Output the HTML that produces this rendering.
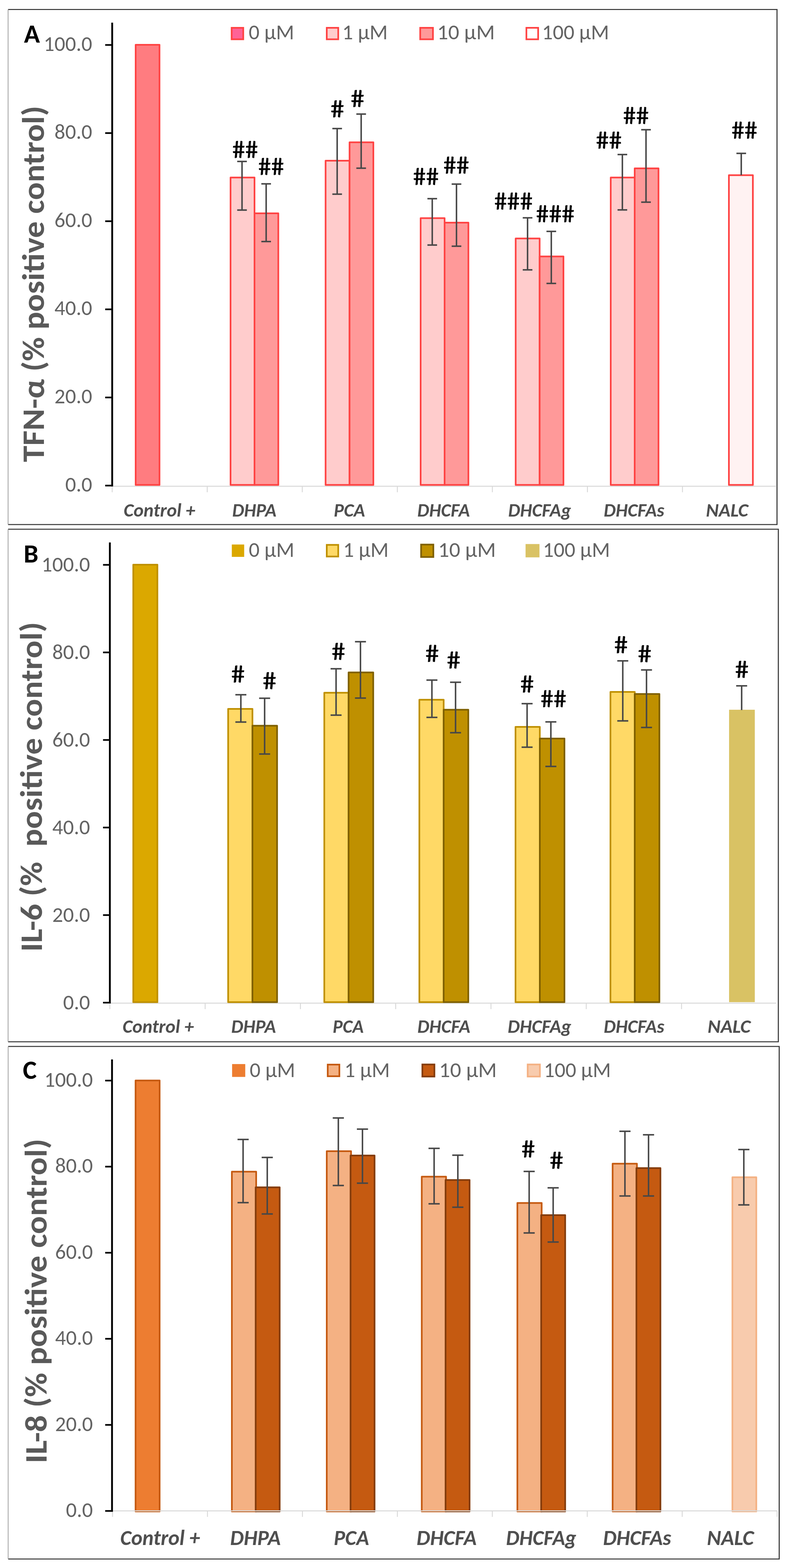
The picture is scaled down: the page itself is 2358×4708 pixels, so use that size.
<!DOCTYPE html>
<html><head><meta charset="utf-8"><title>Cytokine charts</title>
<style>
html,body{margin:0;padding:0;background:#fff;}
body{width:2358px;height:4708px;overflow:hidden;}
svg{display:block;}
text{font-family:Carlito, 'Liberation Sans', Arial, sans-serif;}
</style></head><body>
<svg width="2358" height="4708" viewBox="0 0 2358 4708">
<rect width="2358" height="4708" fill="#fff"/>
<path d="M24.3 28.5H2334V1575H24.3" stroke="#383838" stroke-width="3.2" fill="none"/>
<path d="M24.3 28.5V1575" stroke="#9a9a9a" stroke-width="2.2" fill="none"/>
<path d="M337 1460H2332.5" stroke="#d9d9d9" stroke-width="2.8" fill="none"/>
<path d="M337.0 1460V1478" stroke="#d9d9d9" stroke-width="2.8" fill="none"/>
<path d="M622.5 1460V1478" stroke="#d9d9d9" stroke-width="2.8" fill="none"/>
<path d="M908.0 1460V1478" stroke="#d9d9d9" stroke-width="2.8" fill="none"/>
<path d="M1193.5 1460V1478" stroke="#d9d9d9" stroke-width="2.8" fill="none"/>
<path d="M1479.0 1460V1478" stroke="#d9d9d9" stroke-width="2.8" fill="none"/>
<path d="M1764.5 1460V1478" stroke="#d9d9d9" stroke-width="2.8" fill="none"/>
<path d="M2050.0 1460V1478" stroke="#d9d9d9" stroke-width="2.8" fill="none"/>
<rect x="407.5" y="134.5" width="71.6" height="1321.5" fill="#ff7c80" stroke="#ff4343" stroke-width="5" stroke-linejoin="round"/>
<rect x="692.5" y="533.0" width="72.0" height="923.0" fill="#ffcccc" stroke="#ff4343" stroke-width="5" stroke-linejoin="round"/>
<rect x="764.5" y="640.5" width="71.5" height="815.5" fill="#ff9999" stroke="#ff4343" stroke-width="5" stroke-linejoin="round"/>
<rect x="978.0" y="482.6" width="72.0" height="973.4" fill="#ffcccc" stroke="#ff4343" stroke-width="5" stroke-linejoin="round"/>
<rect x="1050.0" y="427.2" width="71.5" height="1028.8" fill="#ff9999" stroke="#ff4343" stroke-width="5" stroke-linejoin="round"/>
<rect x="1263.5" y="655.0" width="72.0" height="801.0" fill="#ffcccc" stroke="#ff4343" stroke-width="5" stroke-linejoin="round"/>
<rect x="1335.5" y="668.6" width="71.5" height="787.4" fill="#ff9999" stroke="#ff4343" stroke-width="5" stroke-linejoin="round"/>
<rect x="1549.0" y="716.0" width="72.0" height="740.0" fill="#ffcccc" stroke="#ff4343" stroke-width="5" stroke-linejoin="round"/>
<rect x="1621.0" y="770.0" width="71.5" height="686.0" fill="#ff9999" stroke="#ff4343" stroke-width="5" stroke-linejoin="round"/>
<rect x="1834.5" y="533.0" width="72.0" height="923.0" fill="#ffcccc" stroke="#ff4343" stroke-width="5" stroke-linejoin="round"/>
<rect x="1906.5" y="505.5" width="71.5" height="950.5" fill="#ff9999" stroke="#ff4343" stroke-width="5" stroke-linejoin="round"/>
<rect x="2189.5" y="526.0" width="72.0" height="930.0" fill="#fff2f2" stroke="#ff4343" stroke-width="5" stroke-linejoin="round"/>
<path d="M727.0 484.7V630.7M712.5 484.7H741.5M712.5 630.7H741.5" stroke="#474747" stroke-width="4.5" fill="none"/>
<path d="M799.5 552.0V725.3M785.0 552.0H814.0M785.0 725.3H814.0" stroke="#474747" stroke-width="4.5" fill="none"/>
<path d="M1012.8 386.0V583.0M998.3 386.0H1027.3M998.3 583.0H1027.3" stroke="#474747" stroke-width="4.5" fill="none"/>
<path d="M1084.9 342.6V505.1M1070.4 342.6H1099.4M1070.4 505.1H1099.4" stroke="#474747" stroke-width="4.5" fill="none"/>
<path d="M1298.4 596.5V735.8M1283.9 596.5H1312.9M1283.9 735.8H1312.9" stroke="#474747" stroke-width="4.5" fill="none"/>
<path d="M1371.2 552.8V739.3M1356.7 552.8H1385.7M1356.7 739.3H1385.7" stroke="#474747" stroke-width="4.5" fill="none"/>
<path d="M1584.7 654.0V810.2M1570.2 654.0H1599.2M1570.2 810.2H1599.2" stroke="#474747" stroke-width="4.5" fill="none"/>
<path d="M1656.0 694.7V851.0M1641.5 694.7H1670.5M1641.5 851.0H1670.5" stroke="#474747" stroke-width="4.5" fill="none"/>
<path d="M1869.5 464.0V630.2M1855.0 464.0H1884.0M1855.0 630.2H1884.0" stroke="#474747" stroke-width="4.5" fill="none"/>
<path d="M1940.5 389.5V607.0M1926.0 389.5H1955.0M1926.0 607.0H1955.0" stroke="#474747" stroke-width="4.5" fill="none"/>
<path d="M2226.6 460.5V526.0M2212.1 460.5H2241.1" stroke="#474747" stroke-width="4.5" fill="none"/>
<path d="M337 68V1460.5" stroke="#000" stroke-width="5.5" fill="none"/>
<path d="M316 1458.0H337" stroke="#000" stroke-width="5" fill="none"/>
<text x="277.0" y="1475.5" font-size="64" font-weight="normal" font-style="normal" fill="#646464" text-anchor="end" textLength="81.0" lengthAdjust="spacingAndGlyphs">0.0</text>
<path d="M316 1193.4H337" stroke="#000" stroke-width="5" fill="none"/>
<text x="277.0" y="1210.9" font-size="64" font-weight="normal" font-style="normal" fill="#646464" text-anchor="end" textLength="113.5" lengthAdjust="spacingAndGlyphs">20.0</text>
<path d="M316 928.8H337" stroke="#000" stroke-width="5" fill="none"/>
<text x="277.0" y="946.3" font-size="64" font-weight="normal" font-style="normal" fill="#646464" text-anchor="end" textLength="113.5" lengthAdjust="spacingAndGlyphs">40.0</text>
<path d="M316 664.2H337" stroke="#000" stroke-width="5" fill="none"/>
<text x="277.0" y="681.7" font-size="64" font-weight="normal" font-style="normal" fill="#646464" text-anchor="end" textLength="113.5" lengthAdjust="spacingAndGlyphs">60.0</text>
<path d="M316 399.6H337" stroke="#000" stroke-width="5" fill="none"/>
<text x="277.0" y="417.1" font-size="64" font-weight="normal" font-style="normal" fill="#646464" text-anchor="end" textLength="113.5" lengthAdjust="spacingAndGlyphs">80.0</text>
<path d="M316 135.0H337" stroke="#000" stroke-width="5" fill="none"/>
<text x="277.0" y="152.5" font-size="64" font-weight="normal" font-style="normal" fill="#646464" text-anchor="end" textLength="145.9" lengthAdjust="spacingAndGlyphs">100.0</text>
<text x="739.0" y="474.2" font-size="75" font-weight="normal" font-style="normal" fill="#000" text-anchor="middle" textLength="78.0" lengthAdjust="spacingAndGlyphs" stroke="#000" stroke-width="0.8" transform="translate(739.0 474.2) skewX(6) translate(-739.0 -474.2)">##</text>
<text x="817.0" y="525.3" font-size="75" font-weight="normal" font-style="normal" fill="#000" text-anchor="middle" textLength="78.0" lengthAdjust="spacingAndGlyphs" stroke="#000" stroke-width="0.8" transform="translate(817.0 525.3) skewX(6) translate(-817.0 -525.3)">##</text>
<text x="1016.1" y="352.3" font-size="75" font-weight="normal" font-style="normal" fill="#000" text-anchor="middle" textLength="41.5" lengthAdjust="spacingAndGlyphs" stroke="#000" stroke-width="0.8" transform="translate(1016.1 352.3) skewX(6) translate(-1016.1 -352.3)">#</text>
<text x="1076.6" y="321.0" font-size="75" font-weight="normal" font-style="normal" fill="#000" text-anchor="middle" textLength="41.5" lengthAdjust="spacingAndGlyphs" stroke="#000" stroke-width="0.8" transform="translate(1076.6 321.0) skewX(6) translate(-1076.6 -321.0)">#</text>
<text x="1282.1" y="555.0" font-size="75" font-weight="normal" font-style="normal" fill="#000" text-anchor="middle" textLength="78.0" lengthAdjust="spacingAndGlyphs" stroke="#000" stroke-width="0.8" transform="translate(1282.1 555.0) skewX(6) translate(-1282.1 -555.0)">##</text>
<text x="1373.2" y="521.4" font-size="75" font-weight="normal" font-style="normal" fill="#000" text-anchor="middle" textLength="78.0" lengthAdjust="spacingAndGlyphs" stroke="#000" stroke-width="0.8" transform="translate(1373.2 521.4) skewX(6) translate(-1373.2 -521.4)">##</text>
<text x="1544.9" y="629.5" font-size="75" font-weight="normal" font-style="normal" fill="#000" text-anchor="middle" textLength="116.0" lengthAdjust="spacingAndGlyphs" stroke="#000" stroke-width="0.8" transform="translate(1544.9 629.5) skewX(6) translate(-1544.9 -629.5)">###</text>
<text x="1670.5" y="666.7" font-size="75" font-weight="normal" font-style="normal" fill="#000" text-anchor="middle" textLength="116.0" lengthAdjust="spacingAndGlyphs" stroke="#000" stroke-width="0.8" transform="translate(1670.5 666.7) skewX(6) translate(-1670.5 -666.7)">###</text>
<text x="1831.6" y="446.5" font-size="75" font-weight="normal" font-style="normal" fill="#000" text-anchor="middle" textLength="78.0" lengthAdjust="spacingAndGlyphs" stroke="#000" stroke-width="0.8" transform="translate(1831.6 446.5) skewX(6) translate(-1831.6 -446.5)">##</text>
<text x="1912.9" y="372.0" font-size="75" font-weight="normal" font-style="normal" fill="#000" text-anchor="middle" textLength="78.0" lengthAdjust="spacingAndGlyphs" stroke="#000" stroke-width="0.8" transform="translate(1912.9 372.0) skewX(6) translate(-1912.9 -372.0)">##</text>
<text x="2238.7" y="416.3" font-size="75" font-weight="normal" font-style="normal" fill="#000" text-anchor="middle" textLength="78.0" lengthAdjust="spacingAndGlyphs" stroke="#000" stroke-width="0.8" transform="translate(2238.7 416.3) skewX(6) translate(-2238.7 -416.3)">##</text>
<rect x="695.8" y="83.5" width="34.9" height="34.5" fill="#ff6396" stroke="#ff4343" stroke-width="5"/>
<text x="747.0" y="118.0" font-size="64" font-weight="normal" font-style="normal" fill="#646464" text-anchor="start" textLength="136.8" lengthAdjust="spacingAndGlyphs">0 µM</text>
<rect x="981.5" y="83.5" width="34.5" height="34.5" fill="#ffcccc" stroke="#ff4343" stroke-width="5"/>
<text x="1028.0" y="118.0" font-size="64" font-weight="normal" font-style="normal" fill="#646464" text-anchor="start" textLength="136.8" lengthAdjust="spacingAndGlyphs">1 µM</text>
<rect x="1262.2" y="83.5" width="38.3" height="34.5" fill="#ff9999" stroke="#ff4343" stroke-width="5"/>
<text x="1313.0" y="118.0" font-size="64" font-weight="normal" font-style="normal" fill="#646464" text-anchor="start" textLength="173.5" lengthAdjust="spacingAndGlyphs">10 µM</text>
<rect x="1581.2" y="83.5" width="35.3" height="34.5" fill="#ffffff" stroke="#ff4343" stroke-width="5"/>
<text x="1628.0" y="118.0" font-size="64" font-weight="normal" font-style="normal" fill="#646464" text-anchor="start" textLength="201.7" lengthAdjust="spacingAndGlyphs">100 µM</text>
<text x="72.0" y="128.0" font-size="79" font-weight="bold" font-style="normal" fill="#000" text-anchor="start">A</text>
<text x="132.4" y="852.5" font-size="94" font-weight="bold" font-style="normal" fill="#595959" text-anchor="middle" textLength="1070.0" lengthAdjust="spacingAndGlyphs" transform="rotate(-90 132.4 852.5)" style="white-space:pre">TFN-α (% positive control)</text>
<text x="479.0" y="1550.5" font-size="57" font-weight="bold" font-style="italic" fill="#4f4f4f" text-anchor="middle" textLength="215.0" lengthAdjust="spacingAndGlyphs">Control +</text>
<text x="764.0" y="1550.5" font-size="57" font-weight="bold" font-style="italic" fill="#4f4f4f" text-anchor="middle" textLength="133.0" lengthAdjust="spacingAndGlyphs">DHPA</text>
<text x="1049.7" y="1550.5" font-size="57" font-weight="bold" font-style="italic" fill="#4f4f4f" text-anchor="middle" textLength="94.0" lengthAdjust="spacingAndGlyphs">PCA</text>
<text x="1332.6" y="1550.5" font-size="57" font-weight="bold" font-style="italic" fill="#4f4f4f" text-anchor="middle" textLength="158.0" lengthAdjust="spacingAndGlyphs">DHCFA</text>
<text x="1621.0" y="1550.5" font-size="57" font-weight="bold" font-style="italic" fill="#4f4f4f" text-anchor="middle" textLength="189.0" lengthAdjust="spacingAndGlyphs">DHCFAg</text>
<text x="1904.6" y="1550.5" font-size="57" font-weight="bold" font-style="italic" fill="#4f4f4f" text-anchor="middle" textLength="182.0" lengthAdjust="spacingAndGlyphs">DHCFAs</text>
<text x="2184.0" y="1550.5" font-size="57" font-weight="bold" font-style="italic" fill="#4f4f4f" text-anchor="middle" textLength="127.0" lengthAdjust="spacingAndGlyphs">NALC</text>
<path d="M24.3 1589H2338V3128H24.3" stroke="#383838" stroke-width="3.2" fill="none"/>
<path d="M24.3 1589V3128" stroke="#9a9a9a" stroke-width="2.2" fill="none"/>
<path d="M330 3012H2331.5" stroke="#d9d9d9" stroke-width="2.8" fill="none"/>
<path d="M330.0 3012V3030" stroke="#d9d9d9" stroke-width="2.8" fill="none"/>
<path d="M616.2 3012V3030" stroke="#d9d9d9" stroke-width="2.8" fill="none"/>
<path d="M902.4 3012V3030" stroke="#d9d9d9" stroke-width="2.8" fill="none"/>
<path d="M1188.6 3012V3030" stroke="#d9d9d9" stroke-width="2.8" fill="none"/>
<path d="M1474.8 3012V3030" stroke="#d9d9d9" stroke-width="2.8" fill="none"/>
<path d="M1761.0 3012V3030" stroke="#d9d9d9" stroke-width="2.8" fill="none"/>
<path d="M2047.2 3012V3030" stroke="#d9d9d9" stroke-width="2.8" fill="none"/>
<rect x="400.3" y="1695.5" width="72.5" height="1313.5" fill="#dba800" stroke="#bf9000" stroke-width="5" stroke-linejoin="round"/>
<rect x="685.3" y="2128.5" width="73.0" height="880.5" fill="#ffd966" stroke="#bf9000" stroke-width="5" stroke-linejoin="round"/>
<rect x="758.3" y="2179.0" width="74.0" height="830.0" fill="#bf9000" stroke="#7f6000" stroke-width="5" stroke-linejoin="round"/>
<rect x="974.1" y="2080.0" width="73.0" height="929.0" fill="#ffd966" stroke="#bf9000" stroke-width="5" stroke-linejoin="round"/>
<rect x="1047.1" y="2019.0" width="74.0" height="990.0" fill="#bf9000" stroke="#7f6000" stroke-width="5" stroke-linejoin="round"/>
<rect x="1259.7" y="2101.0" width="73.0" height="908.0" fill="#ffd966" stroke="#bf9000" stroke-width="5" stroke-linejoin="round"/>
<rect x="1332.7" y="2131.0" width="74.0" height="878.0" fill="#bf9000" stroke="#7f6000" stroke-width="5" stroke-linejoin="round"/>
<rect x="1548.5" y="2182.5" width="73.0" height="826.5" fill="#ffd966" stroke="#bf9000" stroke-width="5" stroke-linejoin="round"/>
<rect x="1621.5" y="2217.5" width="74.0" height="791.5" fill="#bf9000" stroke="#7f6000" stroke-width="5" stroke-linejoin="round"/>
<rect x="1833.7" y="2077.5" width="73.0" height="931.5" fill="#ffd966" stroke="#bf9000" stroke-width="5" stroke-linejoin="round"/>
<rect x="1906.7" y="2083.7" width="74.0" height="925.3" fill="#bf9000" stroke="#7f6000" stroke-width="5" stroke-linejoin="round"/>
<rect x="2190.0" y="2131.0" width="77.3" height="878.0" fill="#d9c264"/>
<path d="M723.5 2086.0V2168.0M707.0 2086.0H740.0M707.0 2168.0H740.0" stroke="#474747" stroke-width="4.5" fill="none"/>
<path d="M794.9 2096.5V2264.0M778.4 2096.5H811.4M778.4 2264.0H811.4" stroke="#474747" stroke-width="4.5" fill="none"/>
<path d="M1009.5 2008.0V2147.2M993.0 2008.0H1026.0M993.0 2147.2H1026.0" stroke="#474747" stroke-width="4.5" fill="none"/>
<path d="M1082.8 1926.7V2096.0M1066.3 1926.7H1099.3M1066.3 2096.0H1099.3" stroke="#474747" stroke-width="4.5" fill="none"/>
<path d="M1297.4 2041.9V2154.0M1280.9 2041.9H1313.9M1280.9 2154.0H1313.9" stroke="#474747" stroke-width="4.5" fill="none"/>
<path d="M1368.4 2048.4V2200.0M1351.9 2048.4H1384.9M1351.9 2200.0H1384.9" stroke="#474747" stroke-width="4.5" fill="none"/>
<path d="M1583.3 2112.8V2243.5M1566.8 2112.8H1599.8M1566.8 2243.5H1599.8" stroke="#474747" stroke-width="4.5" fill="none"/>
<path d="M1654.7 2167.4V2301.2M1638.2 2167.4H1671.2M1638.2 2301.2H1671.2" stroke="#474747" stroke-width="4.5" fill="none"/>
<path d="M1870.7 1984.2V2164.4M1854.2 1984.2H1887.2M1854.2 2164.4H1887.2" stroke="#474747" stroke-width="4.5" fill="none"/>
<path d="M1942.0 2011.6V2184.2M1925.5 2011.6H1958.5M1925.5 2184.2H1958.5" stroke="#474747" stroke-width="4.5" fill="none"/>
<path d="M2227.8 2059.3V2132.0M2211.3 2059.3H2244.3" stroke="#474747" stroke-width="4.5" fill="none"/>
<path d="M330 1628.7V3013.0" stroke="#000" stroke-width="5.5" fill="none"/>
<path d="M309.5 3010.5H330" stroke="#000" stroke-width="5" fill="none"/>
<text x="270.5" y="3030.5" font-size="64" font-weight="normal" font-style="normal" fill="#646464" text-anchor="end" textLength="81.0" lengthAdjust="spacingAndGlyphs">0.0</text>
<path d="M309.5 2747.6H330" stroke="#000" stroke-width="5" fill="none"/>
<text x="270.5" y="2767.6" font-size="64" font-weight="normal" font-style="normal" fill="#646464" text-anchor="end" textLength="113.5" lengthAdjust="spacingAndGlyphs">20.0</text>
<path d="M309.5 2484.7H330" stroke="#000" stroke-width="5" fill="none"/>
<text x="270.5" y="2504.7" font-size="64" font-weight="normal" font-style="normal" fill="#646464" text-anchor="end" textLength="113.5" lengthAdjust="spacingAndGlyphs">40.0</text>
<path d="M309.5 2221.8H330" stroke="#000" stroke-width="5" fill="none"/>
<text x="270.5" y="2241.8" font-size="64" font-weight="normal" font-style="normal" fill="#646464" text-anchor="end" textLength="113.5" lengthAdjust="spacingAndGlyphs">60.0</text>
<path d="M309.5 1958.9H330" stroke="#000" stroke-width="5" fill="none"/>
<text x="270.5" y="1978.9" font-size="64" font-weight="normal" font-style="normal" fill="#646464" text-anchor="end" textLength="113.5" lengthAdjust="spacingAndGlyphs">80.0</text>
<path d="M309.5 1696.0H330" stroke="#000" stroke-width="5" fill="none"/>
<text x="270.5" y="1716.0" font-size="64" font-weight="normal" font-style="normal" fill="#646464" text-anchor="end" textLength="145.9" lengthAdjust="spacingAndGlyphs">100.0</text>
<text x="717.5" y="2048.8" font-size="75" font-weight="normal" font-style="normal" fill="#000" text-anchor="middle" textLength="41.5" lengthAdjust="spacingAndGlyphs" stroke="#000" stroke-width="0.8" transform="translate(717.5 2048.8) skewX(6) translate(-717.5 -2048.8)">#</text>
<text x="812.2" y="2068.6" font-size="75" font-weight="normal" font-style="normal" fill="#000" text-anchor="middle" textLength="41.5" lengthAdjust="spacingAndGlyphs" stroke="#000" stroke-width="0.8" transform="translate(812.2 2068.6) skewX(6) translate(-812.2 -2068.6)">#</text>
<text x="1019.2" y="1981.4" font-size="75" font-weight="normal" font-style="normal" fill="#000" text-anchor="middle" textLength="41.5" lengthAdjust="spacingAndGlyphs" stroke="#000" stroke-width="0.8" transform="translate(1019.2 1981.4) skewX(6) translate(-1019.2 -1981.4)">#</text>
<text x="1300.7" y="1987.2" font-size="75" font-weight="normal" font-style="normal" fill="#000" text-anchor="middle" textLength="41.5" lengthAdjust="spacingAndGlyphs" stroke="#000" stroke-width="0.8" transform="translate(1300.7 1987.2) skewX(6) translate(-1300.7 -1987.2)">#</text>
<text x="1365.2" y="2007.4" font-size="75" font-weight="normal" font-style="normal" fill="#000" text-anchor="middle" textLength="41.5" lengthAdjust="spacingAndGlyphs" stroke="#000" stroke-width="0.8" transform="translate(1365.2 2007.4) skewX(6) translate(-1365.2 -2007.4)">#</text>
<text x="1585.9" y="2079.0" font-size="75" font-weight="normal" font-style="normal" fill="#000" text-anchor="middle" textLength="41.5" lengthAdjust="spacingAndGlyphs" stroke="#000" stroke-width="0.8" transform="translate(1585.9 2079.0) skewX(6) translate(-1585.9 -2079.0)">#</text>
<text x="1665.3" y="2123.3" font-size="75" font-weight="normal" font-style="normal" fill="#000" text-anchor="middle" textLength="78.0" lengthAdjust="spacingAndGlyphs" stroke="#000" stroke-width="0.8" transform="translate(1665.3 2123.3) skewX(6) translate(-1665.3 -2123.3)">##</text>
<text x="1867.9" y="1961.0" font-size="75" font-weight="normal" font-style="normal" fill="#000" text-anchor="middle" textLength="41.5" lengthAdjust="spacingAndGlyphs" stroke="#000" stroke-width="0.8" transform="translate(1867.9 1961.0) skewX(6) translate(-1867.9 -1961.0)">#</text>
<text x="1939.1" y="1988.0" font-size="75" font-weight="normal" font-style="normal" fill="#000" text-anchor="middle" textLength="41.5" lengthAdjust="spacingAndGlyphs" stroke="#000" stroke-width="0.8" transform="translate(1939.1 1988.0) skewX(6) translate(-1939.1 -1988.0)">#</text>
<text x="2231.1" y="2035.0" font-size="75" font-weight="normal" font-style="normal" fill="#000" text-anchor="middle" textLength="41.5" lengthAdjust="spacingAndGlyphs" stroke="#000" stroke-width="0.8" transform="translate(2231.1 2035.0) skewX(6) translate(-2231.1 -2035.0)">#</text>
<rect x="696.3" y="1634.9" width="37.2" height="37.1" fill="#dba800"/>
<text x="747.3" y="1672.0" font-size="64" font-weight="normal" font-style="normal" fill="#646464" text-anchor="start" textLength="136.8" lengthAdjust="spacingAndGlyphs">0 µM</text>
<rect x="981.5" y="1636.0" width="34.5" height="35.0" fill="#ffd966" stroke="#bf9000" stroke-width="5"/>
<text x="1030.7" y="1672.0" font-size="64" font-weight="normal" font-style="normal" fill="#646464" text-anchor="start" textLength="136.8" lengthAdjust="spacingAndGlyphs">1 µM</text>
<rect x="1264.9" y="1635.1" width="36.8" height="37.3" fill="#bf9000" stroke="#7f6000" stroke-width="5"/>
<text x="1316.0" y="1672.0" font-size="64" font-weight="normal" font-style="normal" fill="#646464" text-anchor="start" textLength="173.5" lengthAdjust="spacingAndGlyphs">10 µM</text>
<rect x="1578.7" y="1633.5" width="41.8" height="40.0" fill="#d9c264"/>
<text x="1630.8" y="1672.0" font-size="64" font-weight="normal" font-style="normal" fill="#646464" text-anchor="start" textLength="201.7" lengthAdjust="spacingAndGlyphs">100 µM</text>
<text x="71.0" y="1689.3" font-size="79" font-weight="bold" font-style="normal" fill="#000" text-anchor="start">B</text>
<text x="125.5" y="2362.5" font-size="94" font-weight="bold" font-style="normal" fill="#595959" text-anchor="middle" textLength="990.0" lengthAdjust="spacingAndGlyphs" transform="rotate(-90 125.5 2362.5)" style="white-space:pre">IL-6 (%  positive control)</text>
<text x="475.3" y="3101.0" font-size="57" font-weight="bold" font-style="italic" fill="#4f4f4f" text-anchor="middle" textLength="214.0" lengthAdjust="spacingAndGlyphs">Control +</text>
<text x="761.8" y="3101.0" font-size="57" font-weight="bold" font-style="italic" fill="#4f4f4f" text-anchor="middle" textLength="134.5" lengthAdjust="spacingAndGlyphs">DHPA</text>
<text x="1046.0" y="3101.0" font-size="57" font-weight="bold" font-style="italic" fill="#4f4f4f" text-anchor="middle" textLength="93.0" lengthAdjust="spacingAndGlyphs">PCA</text>
<text x="1333.3" y="3101.0" font-size="57" font-weight="bold" font-style="italic" fill="#4f4f4f" text-anchor="middle" textLength="159.0" lengthAdjust="spacingAndGlyphs">DHCFA</text>
<text x="1620.5" y="3101.0" font-size="57" font-weight="bold" font-style="italic" fill="#4f4f4f" text-anchor="middle" textLength="191.0" lengthAdjust="spacingAndGlyphs">DHCFAg</text>
<text x="1904.5" y="3101.0" font-size="57" font-weight="bold" font-style="italic" fill="#4f4f4f" text-anchor="middle" textLength="182.0" lengthAdjust="spacingAndGlyphs">DHCFAs</text>
<text x="2190.0" y="3101.0" font-size="57" font-weight="bold" font-style="italic" fill="#4f4f4f" text-anchor="middle" textLength="129.0" lengthAdjust="spacingAndGlyphs">NALC</text>
<path d="M24.5 3142H2340.6V4681H24.5" stroke="#383838" stroke-width="3.2" fill="none"/>
<path d="M24.5 3142V4681" stroke="#9a9a9a" stroke-width="2.2" fill="none"/>
<path d="M336.5 4536.5H2334.5" stroke="#d9d9d9" stroke-width="2.8" fill="none"/>
<path d="M338.0 4536.5V4554.5" stroke="#d9d9d9" stroke-width="2.8" fill="none"/>
<path d="M623.2 4536.5V4554.5" stroke="#d9d9d9" stroke-width="2.8" fill="none"/>
<path d="M908.4 4536.5V4554.5" stroke="#d9d9d9" stroke-width="2.8" fill="none"/>
<path d="M1193.6 4536.5V4554.5" stroke="#d9d9d9" stroke-width="2.8" fill="none"/>
<path d="M1478.8 4536.5V4554.5" stroke="#d9d9d9" stroke-width="2.8" fill="none"/>
<path d="M1764.0 4536.5V4554.5" stroke="#d9d9d9" stroke-width="2.8" fill="none"/>
<path d="M2049.2 4536.5V4554.5" stroke="#d9d9d9" stroke-width="2.8" fill="none"/>
<path d="M2334.4 4536.5V4554.5" stroke="#d9d9d9" stroke-width="2.8" fill="none"/>
<rect x="407.2" y="3244.2" width="72.3" height="1293.8" fill="#ed7d31" stroke="#c55a11" stroke-width="5" stroke-linejoin="round"/>
<rect x="696.5" y="3518.0" width="73.0" height="1020.0" fill="#f4b183" stroke="#c55a11" stroke-width="5" stroke-linejoin="round"/>
<rect x="768.0" y="3565.0" width="72.1" height="973.0" fill="#c55a11" stroke="#843c0c" stroke-width="5" stroke-linejoin="round"/>
<rect x="981.5" y="3456.5" width="73.0" height="1081.5" fill="#f4b183" stroke="#c55a11" stroke-width="5" stroke-linejoin="round"/>
<rect x="1053.0" y="3469.5" width="72.1" height="1068.5" fill="#c55a11" stroke="#843c0c" stroke-width="5" stroke-linejoin="round"/>
<rect x="1266.9" y="3533.0" width="73.0" height="1005.0" fill="#f4b183" stroke="#c55a11" stroke-width="5" stroke-linejoin="round"/>
<rect x="1338.4" y="3543.0" width="72.1" height="995.0" fill="#c55a11" stroke="#843c0c" stroke-width="5" stroke-linejoin="round"/>
<rect x="1554.1" y="3612.0" width="73.0" height="926.0" fill="#f4b183" stroke="#c55a11" stroke-width="5" stroke-linejoin="round"/>
<rect x="1625.6" y="3648.6" width="72.1" height="889.4" fill="#c55a11" stroke="#843c0c" stroke-width="5" stroke-linejoin="round"/>
<rect x="1840.2" y="3494.0" width="73.0" height="1044.0" fill="#f4b183" stroke="#c55a11" stroke-width="5" stroke-linejoin="round"/>
<rect x="1911.7" y="3507.3" width="72.1" height="1030.7" fill="#c55a11" stroke="#843c0c" stroke-width="5" stroke-linejoin="round"/>
<rect x="2200.0" y="3534.8" width="71.8" height="1003.2" fill="#f8cbad" stroke="#f4b183" stroke-width="5" stroke-linejoin="round"/>
<path d="M336.5 4536.5H2334.5" stroke="#d9d9d9" stroke-width="2.8" fill="none"/>
<path d="M730.2 3421.2V3611.0M713.5 3421.2H747.0M713.5 3611.0H747.0" stroke="#474747" stroke-width="4.5" fill="none"/>
<path d="M802.8 3475.3V3645.1M786.0 3475.3H819.5M786.0 3645.1H819.5" stroke="#474747" stroke-width="4.5" fill="none"/>
<path d="M1016.3 3356.7V3559.5M999.5 3356.7H1033.0M999.5 3559.5H1033.0" stroke="#474747" stroke-width="4.5" fill="none"/>
<path d="M1088.8 3390.2V3552.6M1072.0 3390.2H1105.5M1072.0 3552.6H1105.5" stroke="#474747" stroke-width="4.5" fill="none"/>
<path d="M1304.0 3447.9V3614.4M1287.2 3447.9H1320.8M1287.2 3614.4H1320.8" stroke="#474747" stroke-width="4.5" fill="none"/>
<path d="M1375.3 3468.4V3624.7M1358.5 3468.4H1392.0M1358.5 3624.7H1392.0" stroke="#474747" stroke-width="4.5" fill="none"/>
<path d="M1589.5 3517.2V3702.1M1572.8 3517.2H1606.2M1572.8 3702.1H1606.2" stroke="#474747" stroke-width="4.5" fill="none"/>
<path d="M1661.6 3566.5V3729.3M1644.8 3566.5H1678.3M1644.8 3729.3H1678.3" stroke="#474747" stroke-width="4.5" fill="none"/>
<path d="M1877.2 3396.7V3590.9M1860.5 3396.7H1894.0M1860.5 3590.9H1894.0" stroke="#474747" stroke-width="4.5" fill="none"/>
<path d="M1948.1 3407.2V3590.9M1931.3 3407.2H1964.8M1931.3 3590.9H1964.8" stroke="#474747" stroke-width="4.5" fill="none"/>
<path d="M2234.3 3451.6V3617.7M2217.6 3451.6H2251.1M2217.6 3617.7H2251.1" stroke="#474747" stroke-width="4.5" fill="none"/>
<path d="M336.5 3181V4539.2" stroke="#000" stroke-width="5.5" fill="none"/>
<path d="M316 4536.7H336.5" stroke="#000" stroke-width="5" fill="none"/>
<text x="279.0" y="4555.2" font-size="64" font-weight="normal" font-style="normal" fill="#646464" text-anchor="end" textLength="81.0" lengthAdjust="spacingAndGlyphs">0.0</text>
<path d="M316 4278.3H336.5" stroke="#000" stroke-width="5" fill="none"/>
<text x="279.0" y="4296.8" font-size="64" font-weight="normal" font-style="normal" fill="#646464" text-anchor="end" textLength="113.5" lengthAdjust="spacingAndGlyphs">20.0</text>
<path d="M316 4019.8H336.5" stroke="#000" stroke-width="5" fill="none"/>
<text x="279.0" y="4038.3" font-size="64" font-weight="normal" font-style="normal" fill="#646464" text-anchor="end" textLength="113.5" lengthAdjust="spacingAndGlyphs">40.0</text>
<path d="M316 3761.4H336.5" stroke="#000" stroke-width="5" fill="none"/>
<text x="279.0" y="3779.9" font-size="64" font-weight="normal" font-style="normal" fill="#646464" text-anchor="end" textLength="113.5" lengthAdjust="spacingAndGlyphs">60.0</text>
<path d="M316 3502.9H336.5" stroke="#000" stroke-width="5" fill="none"/>
<text x="279.0" y="3521.4" font-size="64" font-weight="normal" font-style="normal" fill="#646464" text-anchor="end" textLength="113.5" lengthAdjust="spacingAndGlyphs">80.0</text>
<path d="M316 3244.5H336.5" stroke="#000" stroke-width="5" fill="none"/>
<text x="279.0" y="3263.0" font-size="64" font-weight="normal" font-style="normal" fill="#646464" text-anchor="end" textLength="145.9" lengthAdjust="spacingAndGlyphs">100.0</text>
<text x="1589.6" y="3475.3" font-size="75" font-weight="normal" font-style="normal" fill="#000" text-anchor="middle" textLength="41.5" lengthAdjust="spacingAndGlyphs" stroke="#000" stroke-width="0.8" transform="translate(1589.6 3475.3) skewX(6) translate(-1589.6 -3475.3)">#</text>
<text x="1674.3" y="3509.0" font-size="75" font-weight="normal" font-style="normal" fill="#000" text-anchor="middle" textLength="41.5" lengthAdjust="spacingAndGlyphs" stroke="#000" stroke-width="0.8" transform="translate(1674.3 3509.0) skewX(6) translate(-1674.3 -3509.0)">#</text>
<rect x="697.2" y="3194.9" width="39.5" height="38.6" fill="#ed7d31"/>
<text x="750.0" y="3234.4" font-size="64" font-weight="normal" font-style="normal" fill="#646464" text-anchor="start" textLength="136.8" lengthAdjust="spacingAndGlyphs">0 µM</text>
<rect x="984.4" y="3196.5" width="35.0" height="35.0" fill="#f4b183" stroke="#c55a11" stroke-width="5"/>
<text x="1034.5" y="3234.4" font-size="64" font-weight="normal" font-style="normal" fill="#646464" text-anchor="start" textLength="136.8" lengthAdjust="spacingAndGlyphs">1 µM</text>
<rect x="1268.7" y="3196.1" width="36.2" height="36.3" fill="#c55a11" stroke="#843c0c" stroke-width="5"/>
<text x="1318.8" y="3234.4" font-size="64" font-weight="normal" font-style="normal" fill="#646464" text-anchor="start" textLength="173.5" lengthAdjust="spacingAndGlyphs">10 µM</text>
<rect x="1585.0" y="3196.1" width="36.8" height="36.3" fill="#f8cbad" stroke="#f4b183" stroke-width="5"/>
<text x="1633.5" y="3234.4" font-size="64" font-weight="normal" font-style="normal" fill="#646464" text-anchor="start" textLength="201.7" lengthAdjust="spacingAndGlyphs">100 µM</text>
<text x="68.4" y="3238.6" font-size="79" font-weight="bold" font-style="normal" fill="#000" text-anchor="start">C</text>
<text x="140.3" y="3906.3" font-size="94" font-weight="bold" font-style="normal" fill="#595959" text-anchor="middle" textLength="975.0" lengthAdjust="spacingAndGlyphs" transform="rotate(-90 140.3 3906.3)" style="white-space:pre">IL-8 (% positive control)</text>
<text x="481.0" y="4638.5" font-size="64" font-weight="bold" font-style="italic" fill="#4f4f4f" text-anchor="middle" textLength="239.6" lengthAdjust="spacingAndGlyphs">Control +</text>
<text x="767.3" y="4638.5" font-size="64" font-weight="bold" font-style="italic" fill="#4f4f4f" text-anchor="middle" textLength="152.0" lengthAdjust="spacingAndGlyphs">DHPA</text>
<text x="1055.8" y="4638.5" font-size="64" font-weight="bold" font-style="italic" fill="#4f4f4f" text-anchor="middle" textLength="106.0" lengthAdjust="spacingAndGlyphs">PCA</text>
<text x="1341.5" y="4638.5" font-size="64" font-weight="bold" font-style="italic" fill="#4f4f4f" text-anchor="middle" textLength="180.4" lengthAdjust="spacingAndGlyphs">DHCFA</text>
<text x="1625.6" y="4638.5" font-size="64" font-weight="bold" font-style="italic" fill="#4f4f4f" text-anchor="middle" textLength="211.0" lengthAdjust="spacingAndGlyphs">DHCFAg</text>
<text x="1913.8" y="4638.5" font-size="64" font-weight="bold" font-style="italic" fill="#4f4f4f" text-anchor="middle" textLength="204.7" lengthAdjust="spacingAndGlyphs">DHCFAs</text>
<text x="2194.0" y="4638.5" font-size="64" font-weight="bold" font-style="italic" fill="#4f4f4f" text-anchor="middle" textLength="140.8" lengthAdjust="spacingAndGlyphs">NALC</text>
</svg>
</body></html>
